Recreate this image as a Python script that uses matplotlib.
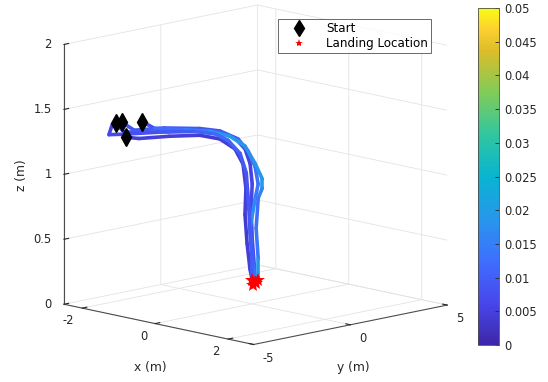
import numpy as np
import matplotlib
matplotlib.use("Agg")
import matplotlib.pyplot as plt
from matplotlib.colors import LinearSegmentedColormap
from matplotlib.lines import Line2D
from mpl_toolkits.mplot3d.art3d import Line3DCollection

# ---------------- data ----------------
t1_x = [-1.4] * 14
t1_y = [-4.39, -3.97, -2.67, -1.10, 0.20, 1.08, 1.76, 2.28, 2.54, 2.65, 2.59, 2.65, 2.75, 2.80]
t1_z = [1.44, 1.36, 1.32, 1.28, 1.25, 1.20, 1.14, 1.04, 0.92, 0.76, 0.57, 0.34, 0.14, 0.0]
t1_c = [0.006, 0.007, 0.008, 0.007, 0.006, 0.007, 0.008, 0.006, 0.005, 0.006, 0.007, 0.006, 0.008, 0.010]

t2_x = [-1.3] * 13
t2_y = [-4.26, -3.64, -2.08, -0.25, 0.79, 1.73, 2.25, 2.61, 2.77, 2.61, 2.35, 2.46, 2.66]
t2_z = [1.45, 1.37, 1.34, 1.28, 1.23, 1.14, 1.03, 0.90, 0.76, 0.65, 0.43, 0.19, 0.0]
t2_c = [0.008, 0.009, 0.010, 0.009, 0.008, 0.010, 0.012, 0.014, 0.012, 0.016, 0.018, 0.012, 0.014]

t3_x = [-1.5] * 13
t3_y = [-2.84, -2.22, -0.65, 0.65, 1.69, 2.47, 2.99, 3.36, 3.36, 3.15, 3.04, 3.15, 3.15]
t3_z = [1.40, 1.33, 1.27, 1.22, 1.15, 1.05, 0.90, 0.77, 0.70, 0.63, 0.40, 0.16, 0.0]
t3_c = [0.006, 0.010, 0.014, 0.018, 0.020, 0.019, 0.017, 0.020, 0.019, 0.013, 0.012, 0.016, 0.022]

t4_x = [-1.2] * 12
t4_y = [-4.24, -3.57, -2.01, -0.44, 0.60, 1.38, 1.80, 1.95, 1.90, 2.01, 2.16, 2.32]
t4_z = [1.34, 1.31, 1.28, 1.24, 1.18, 1.08, 0.95, 0.76, 0.56, 0.33, 0.13, 0.0]
t4_c = [0.004, 0.005, 0.005, 0.004, 0.004, 0.005, 0.004, 0.005, 0.004, 0.004, 0.005, 0.006]

t5_x = [-1.6] * 13
t5_y = [-4.21, -4.37, -3.59, -1.76, 0.06, 1.10, 1.78, 2.40, 2.72, 2.82, 2.92, 3.03, 3.03]
t5_z = [1.41, 1.34, 1.32, 1.28, 1.23, 1.18, 1.11, 0.99, 0.83, 0.63, 0.36, 0.14, 0.0]
t5_c = [0.005, 0.006, 0.007, 0.008, 0.010, 0.011, 0.012, 0.010, 0.009, 0.008, 0.010, 0.009, 0.011]

trajectories = [
    (t1_x, t1_y, t1_z, t1_c),
    (t2_x, t2_y, t2_z, t2_c),
    (t3_x, t3_y, t3_z, t3_c),
    (t4_x, t4_y, t4_z, t4_c),
    (t5_x, t5_y, t5_z, t5_c),
]

x_ticks = [-2, 0, 2]
x_tick_labels = ["-2", "0", "2"]
y_ticks = [-5, 0, 5]
y_tick_labels = ["-5", "0", "5"]
z_ticks = [0, 0.5, 1, 1.5, 2]
z_tick_labels = ["0", "0.5", "1", "1.5", "2"]
cbar_ticks = [0, 0.005, 0.01, 0.015, 0.02, 0.025, 0.03, 0.035, 0.04, 0.045, 0.05]
cbar_labels = ["0", "0.005", "0.01", "0.015", "0.02", "0.025", "0.03", "0.035", "0.04", "0.045", "0.05"]

# parula-like colormap
parula_pts = [
    (0.000, (0.2422, 0.1504, 0.6603)),
    (0.125, (0.2803, 0.2782, 0.9221)),
    (0.250, (0.2440, 0.4358, 0.9988)),
    (0.375, (0.1540, 0.5902, 0.9218)),
    (0.500, (0.0297, 0.7082, 0.8163)),
    (0.625, (0.1938, 0.7758, 0.6251)),
    (0.750, (0.5044, 0.7993, 0.3480)),
    (0.875, (0.8634, 0.7406, 0.1596)),
    (0.9375, (0.9892, 0.8134, 0.1918)),
    (1.000, (0.9769, 0.9839, 0.0805)),
]
parula = LinearSegmentedColormap.from_list("parula", parula_pts)
vmin, vmax = 0.0, 0.05
norm = plt.Normalize(vmin, vmax)

plt.rcParams['font.family'] = ['DejaVu Sans']
FS = 8.3
TXT = '#262626'
GRID = '#e3e3e3'

fig = plt.figure(figsize=(5.48, 3.82), dpi=100)
ax = fig.add_axes([0.027, 0.029, 0.86, 1.0], projection='3d')
ax.set_proj_type('ortho')
ax.view_init(elev=12, azim=-44.4)
ax.set_box_aspect((1, 1, 0.98), zoom=1.185)
ax.computed_zorder = False

for tx, ty, tz, tc in trajectories:
    pts = np.column_stack([tx, ty, tz])
    segs = np.stack([pts[:-1], pts[1:]], axis=1)
    cv = 0.5 * (np.array(tc[:-1]) + np.array(tc[1:]))
    lc = Line3DCollection(segs, colors=parula(norm(cv)), linewidths=2.6, capstyle='round', joinstyle='round', zorder=2)
    ax.add_collection3d(lc)

start_idx = [0, 1, 2, 3]
for i in start_idx:
    tx, ty, tz, _ = trajectories[i]
    ax.plot([tx[0]], [ty[0]], [tz[0]], 'd', color='k', markersize=9, zorder=4)
for tx, ty, tz, _ in trajectories:
    ax.plot([tx[-1]], [ty[-1]], [tz[-1]], '*', color='red', markersize=10, zorder=5, markeredgewidth=0)

ax.set_xlim(-2.5, 2.7)
ax.set_ylim(-5, 5)
ax.set_zlim(0, 2)
ax.set_xticks(x_ticks)
ax.set_xticklabels(x_tick_labels, ha='right', va='center')
ax.set_yticks(y_ticks)
ax.set_yticklabels(y_tick_labels, ha='left', va='center')
ax.set_zticks(z_ticks)
ax.set_zticklabels(z_tick_labels, ha='right', va='center')
ax.zaxis.set_ticks_position('lower')

for axis in (ax.xaxis, ax.yaxis, ax.zaxis):
    axis.set_pane_color((1, 1, 1, 0))
    axis.pane.set_edgecolor((1, 1, 1, 0))
    axis._axinfo['grid']['color'] = GRID
    axis._axinfo['grid']['linewidth'] = 0.6
    axis._axinfo['tick']['inward_factor'] = 0.0
    axis._axinfo['tick']['outward_factor'] = 0.3
    axis.line.set_color('#4d4d4d')
    axis.line.set_linewidth(0.8)
ax.tick_params(labelsize=FS, colors=TXT)
ax.xaxis.set_tick_params(pad=-2)
ax.yaxis.set_tick_params(pad=-1.5)
ax.zaxis.set_tick_params(pad=-3.5)

fig.text(150 / 548, 1 - 367 / 382, 'x (m)', fontsize=FS + 0.5, color=TXT, ha='center', va='center')
fig.text(353 / 548, 1 - 367 / 382, 'y (m)', fontsize=FS + 0.5, color=TXT, ha='center', va='center')
fig.text(22 / 548, 1 - 175 / 382, 'z (m)', fontsize=FS + 0.5, color=TXT, ha='center', va='center', rotation=90)

handles = [Line2D([], [], marker='d', color='k', linestyle='none', markersize=8),
           Line2D([], [], marker='*', color='red', linestyle='none', markersize=6, markeredgewidth=0)]
leg = fig.legend(handles, ['Start', 'Landing Location'], loc='upper left',
                 bbox_to_anchor=(278 / 548, 1 - 19 / 382), fontsize=FS + 0.3, frameon=True,
                 fancybox=False, handlelength=3.0, handletextpad=0.8, borderpad=0.25,
                 labelspacing=0.15, borderaxespad=0)
leg.get_frame().set_edgecolor(TXT)
leg.get_frame().set_linewidth(0.6)

cax = fig.add_axes([478 / 548, 1 - 345 / 382, 21 / 548, 337 / 382])
sm = plt.cm.ScalarMappable(norm=norm, cmap=parula)
cb = fig.colorbar(sm, cax=cax)
cb.set_ticks(cbar_ticks)
cb.set_ticklabels(cbar_labels)
cb.ax.tick_params(labelsize=FS, colors=TXT, direction='in', length=3, width=0.6)
cb.outline.set_edgecolor('#4d4d4d')
cb.outline.set_linewidth(0.6)

fig.savefig('out.png', dpi=100)
